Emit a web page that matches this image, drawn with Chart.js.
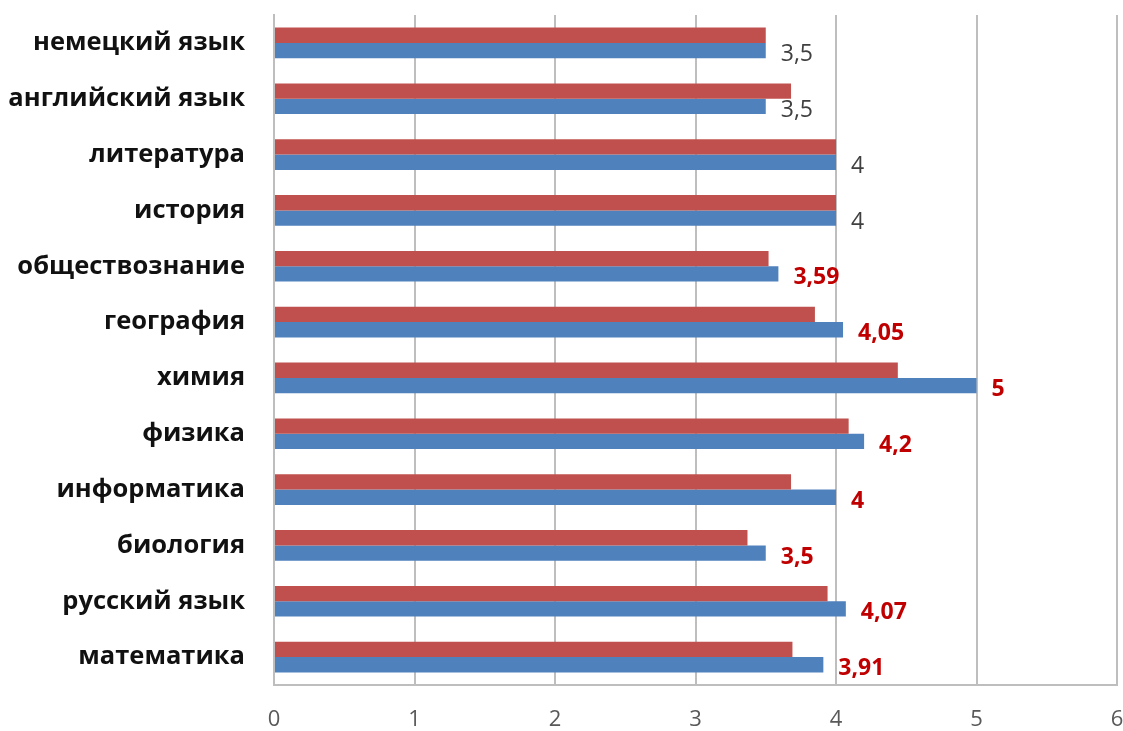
<!DOCTYPE html>
<html>
<head>
<meta charset="utf-8">
<script src="https://cdn.jsdelivr.net/npm/chart.js@4/dist/chart.umd.min.js"></script>
<style>
  html, body { margin: 0; padding: 0; background: #fff; }
  #wrap { width: 1123px; height: 731px; position: relative; }
</style>
</head>
<body>
<div id="wrap"><canvas id="c"></canvas></div>
<script>
const categories = [
  "немецкий язык", "английский язык", "литература", "история",
  "обществознание", "география", "химия", "физика",
  "информатика", "биология", "русский язык", "математика"
];
const redValues  = [3.5, 3.68, 4.0, 4.0, 3.52, 3.85, 4.44, 4.09, 3.68, 3.37, 3.94, 3.69];
const blueValues = [3.5, 3.5, 4, 4, 3.59, 4.05, 5, 4.2, 4, 3.5, 4.07, 3.91];
const xTicks = [0, 1, 2, 3, 4, 5, 6];

const highlightFrom = 4; // labels from this category on are drawn bold red

const labelPlugin = {
  id: 'blueLabels',
  afterDatasetsDraw(chart) {
    const ctx = chart.ctx;
    const meta = chart.getDatasetMeta(1);
    ctx.save();
    ctx.textBaseline = 'middle';
    ctx.textAlign = 'left';
    meta.data.forEach((bar, i) => {
      const v = blueValues[i];
      const txt = String(v).replace('.', ',');
      if (i >= highlightFrom) {
        ctx.fillStyle = '#C00000';
        ctx.font = 'bold 23px "Open Sans", sans-serif';
      } else {
        ctx.fillStyle = '#404040';
        ctx.font = '23px "Open Sans", sans-serif';
      }
      ctx.fillText(txt, bar.x + 15, bar.y + 4);
    });
    ctx.restore();
  }
};

new Chart(document.getElementById('c'), {
  type: 'bar',
  data: {
    labels: categories,
    datasets: [
      { data: redValues, backgroundColor: '#C0504D', borderWidth: 0,
        categoryPercentage: 0.55, barPercentage: 1.0 },
      { data: blueValues, backgroundColor: '#4F81BD', borderWidth: 0,
        categoryPercentage: 0.55, barPercentage: 1.0 }
    ]
  },
  options: {
    indexAxis: 'y',
    responsive: true,
    maintainAspectRatio: false,
    animation: false,
    layout: { padding: { top: 15, right: 6, left: 0, bottom: 0 } },
    plugins: { legend: { display: false }, tooltip: { enabled: false } },
    scales: {
      x: {
        min: 0, max: 6,
        afterBuildTicks(scale) { scale.ticks = xTicks.map(v => ({ value: v })); },
        afterFit(scale) {
          scale.height = 46;
          scale.paddingLeft = 0; scale.paddingRight = 0;
        },
        grid: { color: '#BEBEBE', lineWidth: 2, drawTicks: false },
        border: { display: true, color: '#BEBEBE', width: 2 },
        ticks: {
          padding: 22,
          color: '#595959',
          font: { family: '"Open Sans", sans-serif', size: 22 },
          callback: (v) => String(v)
        }
      },
      y: {
        afterFit(scale) {
          scale.width = 274;
          scale.paddingTop = 0; scale.paddingBottom = 0;
        },
        grid: { display: false, drawTicks: false },
        border: { display: true, color: '#BEBEBE', width: 2 },
        ticks: {
          padding: 29,
          color: '#111111',
          font: { family: '"Open Sans", sans-serif', size: 25.5, weight: 'bold' }
        }
      }
    }
  },
  plugins: [labelPlugin]
});
</script>
</body>
</html>
